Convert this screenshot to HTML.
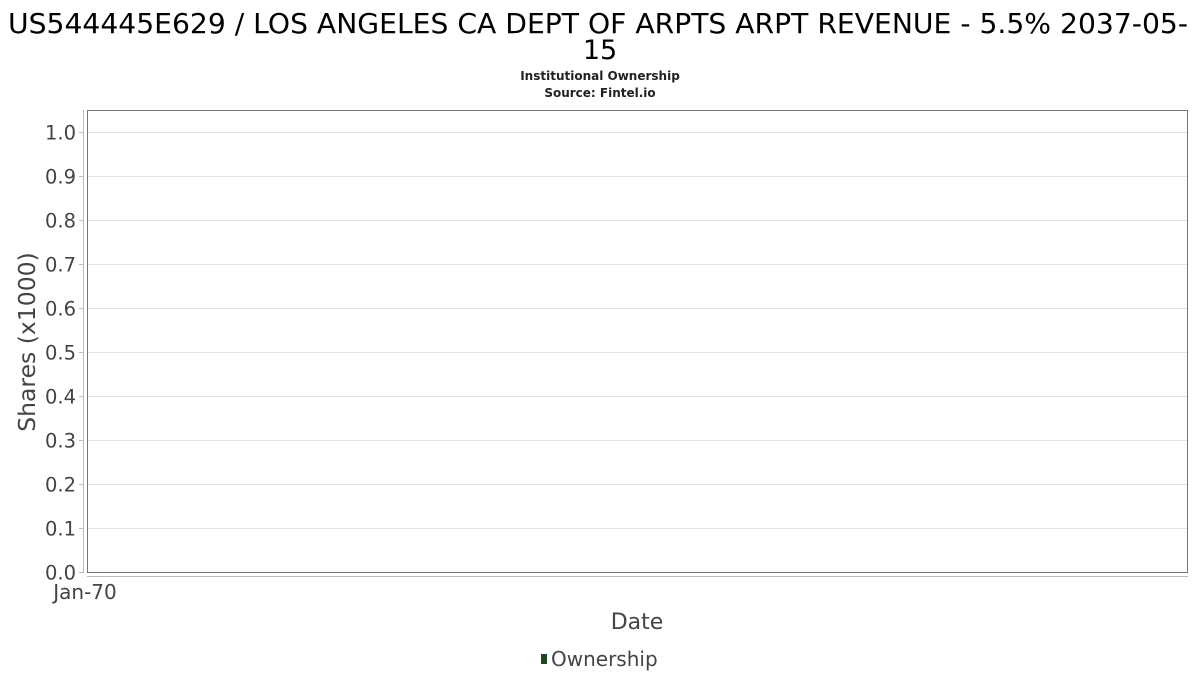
<!DOCTYPE html>
<html><head><meta charset="utf-8"><style>
html,body{margin:0;padding:0;background:#fff;}
svg{display:block;font-family:"DejaVu Sans","Liberation Sans",sans-serif;}
</style></head><body>
<svg id="chart" width="1200" height="675" viewBox="0 0 1200 675">
<text x="598" y="33" text-anchor="middle" font-size="24" textLength="1180" lengthAdjust="spacingAndGlyphs" fill="#000" style="font-size:27.5px">US544445E629 / LOS ANGELES CA DEPT OF ARPTS ARPT REVENUE - 5.5% 2037-05-</text>
<text x="600" y="59" text-anchor="middle" font-size="27" fill="#000">15</text>
<text x="600" y="80" text-anchor="middle" font-size="12" font-weight="bold" fill="#222">Institutional Ownership</text>
<text x="600" y="97" text-anchor="middle" font-size="12" font-weight="bold" fill="#222">Source: Fintel.io</text>
<g id="grid"></g>
<rect x="87.5" y="110.5" width="1100" height="462" fill="none" stroke="#777" stroke-width="1"/>
<line x1="83.5" y1="110" x2="83.5" y2="573" stroke="#bbb"/>
<line x1="87" y1="576.5" x2="1188" y2="576.5" stroke="#bbb"/>
<g id="yticks"></g>
<g id="xticks"></g>
<g id="series"></g>
<text transform="translate(35,342) rotate(-90)" text-anchor="middle" font-size="23.5" fill="#444">Shares (x1000)</text>
<text x="637" y="629" text-anchor="middle" font-size="22" fill="#444">Date</text>
<g>
<rect x="541" y="654" width="6" height="10" fill="#1e4a23"/>
<text x="551" y="666" font-size="20" fill="#444">Ownership</text>
</g>
</svg>
<script>
const yTickValues = [0.0,0.1,0.2,0.3,0.4,0.5,0.6,0.7,0.8,0.9,1.0];
const yTickLabels = ["0.0","0.1","0.2","0.3","0.4","0.5","0.6","0.7","0.8","0.9","1.0"];
const xTickLabels = ["Jan-70"];
const xTickValues = [0];
const ownershipValues = [];
const ownershipDates = [];

const NS="http://www.w3.org/2000/svg";
const yMin=0,yMax=1,yTop=132,yBot=572;
const xMin=0,xMax=1,xLeft=85,xRight=1188;
function yScale(v){return yBot-(v-yMin)/(yMax-yMin)*(yBot-yTop);}
function xScale(v){return xLeft+(v-xMin)/(xMax-xMin)*(xRight-xLeft);}
function mk(tag,attrs){const e=document.createElementNS(NS,tag);for(const k in attrs)e.setAttribute(k,attrs[k]);return e;}

const grid=document.getElementById('grid'),yt=document.getElementById('yticks'),xt=document.getElementById('xticks');
yTickValues.forEach((v,i)=>{
  const y=Math.round(yScale(v))+0.5;
  if(v>0){
    const g=mk('line',{x1:88,x2:1188,y1:y,y2:y,stroke:'#e2e2e2'});
    
    
    grid.appendChild(g);
  }
  const t=mk('line',{x1:79,x2:83,y1:y,y2:y,stroke:'#bbb'});
  
  
  yt.appendChild(t);
  const l=mk('text',{x:76,y:y+7,'text-anchor':'end','font-size':19.5,fill:'#444'});
  
  
  l.textContent=yTickLabels[i];
  yt.appendChild(l);
});
xTickValues.forEach((v,i)=>{
  const x=xScale(v);
  const l=mk('text',{x:x,y:599,'text-anchor':'middle','font-size':20,fill:'#444'});
  
  
  l.textContent=xTickLabels[i];
  xt.appendChild(l);
});
const s=document.getElementById('series');
ownershipValues.forEach((v,i)=>{
  const x=xScale(ownershipDates[i]),y=yScale(v);
  const b=mk('rect',{x:x-2,y:y,width:4,height:yBot-y,fill:'#1e4a23'});
  
  
  s.appendChild(b);
});
</script>
</body></html>
